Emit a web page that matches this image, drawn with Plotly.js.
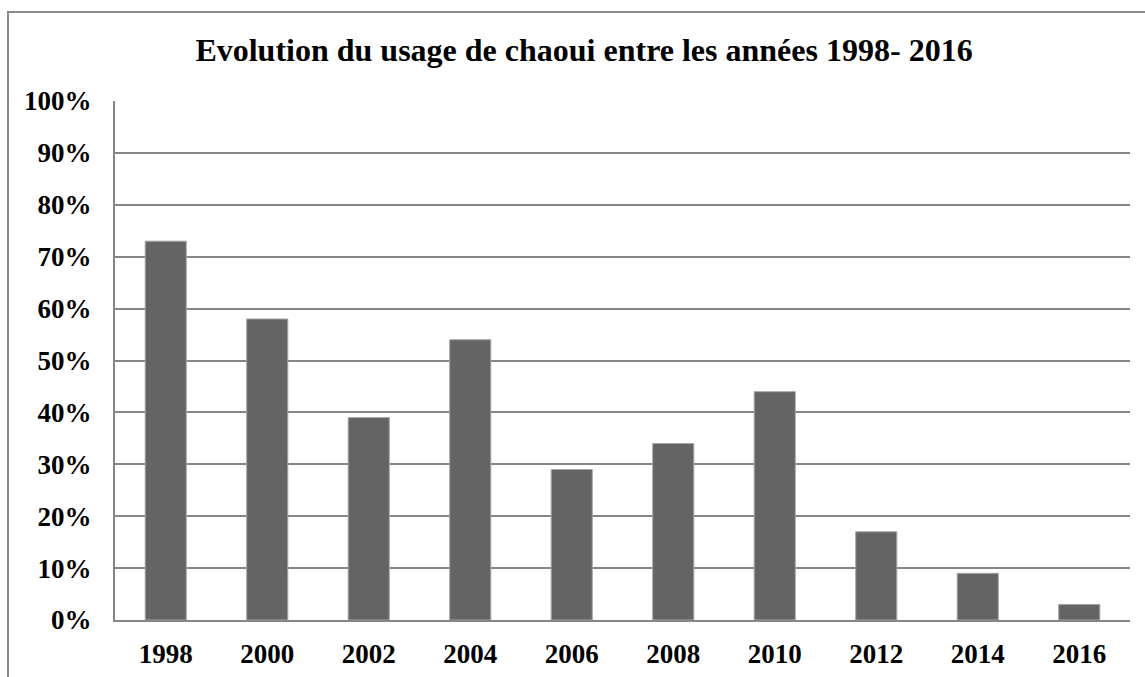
<!DOCTYPE html>
<html>
<head>
<meta charset="utf-8">
<script src="https://cdn.plot.ly/plotly-3.0.1.min.js"></script>
<style>
html,body{margin:0;padding:0;background:#fff;}
#wrap{position:relative;width:1145px;height:677px;}
#chart{position:absolute;left:0;top:0;width:1145px;height:677px;}
#frame{position:absolute;left:7px;top:11px;width:1138px;height:666px;border-top:2px solid #8a8a8a;border-left:2px solid #8a8a8a;pointer-events:none;}
</style>
</head>
<body>
<div id="wrap"><div id="chart"></div><div id="frame"></div></div>
<script>
const years = ['1998','2000','2002','2004','2006','2008','2010','2012','2014','2016'];
const usage = [0.73, 0.58, 0.39, 0.54, 0.29, 0.34, 0.44, 0.17, 0.09, 0.03];
const yTicks = [0,0.1,0.2,0.3,0.4,0.5,0.6,0.7,0.8,0.9,1.0];
const titleText = 'Evolution du usage de chaoui entre les années 1998- 2016';

const font = 'Liberation Serif, Times New Roman, serif';
Plotly.newPlot('chart', [{
  type: 'bar',
  x: years,
  y: usage,
  marker: {color: '#646464', line: {color: '#a6a6a6', width: 1}},
  hoverinfo: 'x+y'
}], {
  width: 1145, height: 677,
  margin: {l: 115, r: 15, t: 101, b: 57},
  paper_bgcolor: '#ffffff', plot_bgcolor: '#ffffff',
  bargap: 0.595,
  showlegend: false,
  title: {text: '<b>' + titleText + '</b>', x: 584/1145, xref: 'container', xanchor: 'center',
          y: 1 - 50/677, yref: 'container', yanchor: 'middle',
          font: {family: font, size: 32, color: '#000'}},
  xaxis: {type: 'category', showline: true, linecolor: '#868686', linewidth: 2,
          showgrid: false, ticks: '', ticklabelstandoff: 9,
          tickfont: {family: font, size: 27, color: '#000', weight: 'bold'}},
  yaxis: {range: [0, 1], tickvals: yTicks, tickformat: '.0%', showline: true,
          linecolor: '#868686', linewidth: 2, showgrid: true, gridcolor: '#868686', gridwidth: 2,
          zeroline: false, ticks: '', ticklabelstandoff: 16,
          tickfont: {family: font, size: 27, color: '#000', weight: 'bold'}}
}, {displayModeBar: false, staticPlot: true});
</script>
</body>
</html>
